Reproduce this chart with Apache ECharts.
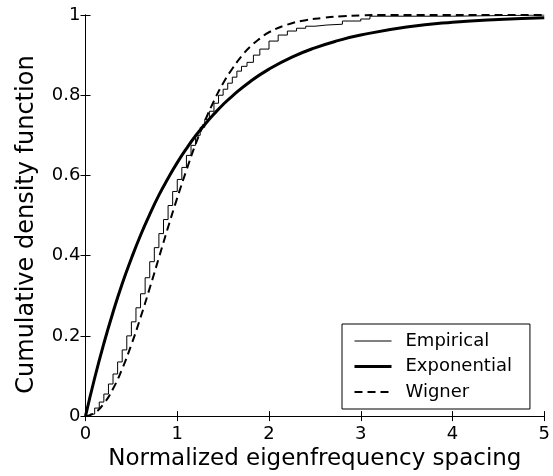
<!DOCTYPE html>
<html>
<head>
<meta charset="utf-8">
<script src="https://cdn.jsdelivr.net/npm/echarts@6/dist/echarts.min.js"></script>
<style>html,body{margin:0;padding:0;background:#fff;}#c{width:553px;height:476px;}</style>
</head>
<body>
<div id="c"></div>
<script>
const xTicks = [0, 1, 2, 3, 4, 5];
const yTicks = [0, 0.2, 0.4, 0.6, 0.8, 1];
const seriesNames = ['Empirical', 'Exponential', 'Wigner'];

const empX = [0, 0.05, 0.1, 0.15, 0.2, 0.25, 0.3, 0.35, 0.4, 0.45, 0.5, 0.55, 0.6, 0.65, 0.7, 0.75, 0.8, 0.85, 0.9, 0.95, 1.0, 1.05, 1.1, 1.15, 1.2, 1.25, 1.3, 1.35, 1.4, 1.45, 1.5, 1.55, 1.6, 1.65, 1.7, 1.76, 1.83, 1.9, 2.0, 2.1, 2.2, 2.3, 2.4, 2.5, 2.63, 2.8, 3.0, 3.1, 4.0, 5.0];
const empY = [0, 0.005, 0.02, 0.035, 0.055, 0.08, 0.105, 0.135, 0.165, 0.2, 0.235, 0.27, 0.305, 0.345, 0.385, 0.42, 0.455, 0.49, 0.525, 0.56, 0.59, 0.62, 0.65, 0.675, 0.7, 0.72, 0.74, 0.76, 0.78, 0.8, 0.815, 0.83, 0.845, 0.86, 0.872, 0.882, 0.9, 0.915, 0.935, 0.95, 0.96, 0.967, 0.972, 0.975, 0.977, 0.985, 0.99, 0.997, 1.0, 1.0];

const expX = [0, 0.1, 0.2, 0.3, 0.4, 0.5, 0.6, 0.7, 0.8, 0.9, 1.0, 1.1, 1.2, 1.3, 1.4, 1.5, 1.6, 1.8, 2.0, 2.25, 2.5, 2.75, 3.0, 3.5, 4.0, 4.5, 5.0];
const expY = [0, 0.095, 0.181, 0.259, 0.33, 0.393, 0.451, 0.503, 0.551, 0.593, 0.632, 0.667, 0.699, 0.727, 0.753, 0.777, 0.798, 0.835, 0.865, 0.895, 0.918, 0.936, 0.95, 0.97, 0.982, 0.989, 0.993];

const wigX = [0, 0.1, 0.2, 0.3, 0.4, 0.5, 0.6, 0.7, 0.8, 0.9, 1.0, 1.1, 1.2, 1.3, 1.4, 1.5, 1.6, 1.7, 1.8, 1.9, 2.0, 2.2, 2.4, 2.6, 2.8, 3.0, 3.2, 5.0];
const wigY = [0, 0.008, 0.031, 0.068, 0.118, 0.178, 0.246, 0.319, 0.395, 0.471, 0.544, 0.613, 0.678, 0.735, 0.786, 0.83, 0.866, 0.897, 0.922, 0.941, 0.957, 0.976, 0.987, 0.993, 0.997, 0.999, 1.0, 1.0];

const pairs = (xs, ys) => xs.map((x, i) => [x, ys[i]]);
const FONT = 'DejaVu Sans';
const black = '#000';
const lineWidths = [1, 3, 2];
const lineTypes = ['solid', 'solid', [8, 5]];

const chart = echarts.init(document.getElementById('c'), null, {renderer: 'canvas'});
const baseAxisLine = {show: true, lineStyle: {color: black, width: 1}};
chart.setOption({
  backgroundColor: '#fff',
  animation: false,
  textStyle: {fontFamily: FONT, color: black},
  grid: {left: 85.5, right: 8.5, top: 15, bottom: 55, containLabel: false},
  legend: {
    orient: 'vertical', left: 342, top: 324,
    data: seriesNames.map((n, i) => ({
      name: n,
      itemStyle: {opacity: 0},
      lineStyle: {color: black, width: lineWidths[i], type: lineTypes[i]}
    })),
    itemWidth: 37, itemHeight: 18, itemGap: 7.5,
    padding: [8, 18, 8, 11],
    borderColor: black, borderWidth: 1, backgroundColor: '#fff',
    itemStyle: {opacity: 0},
    textStyle: {fontFamily: FONT, fontSize: 18, color: black, padding: [0, 0, 0, 9]}
  },
  xAxis: [{
    type: 'value', min: xTicks[0], max: xTicks[xTicks.length - 1], interval: 1,
    position: 'bottom',
    name: 'Normalized eigenfrequency spacing', nameLocation: 'middle', nameGap: 25,
    nameTextStyle: {fontFamily: FONT, fontSize: 23, color: black},
    axisLine: baseAxisLine,
    axisTick: {show: true, inside: true, length: 5, lineStyle: {color: black}},
    axisLabel: {fontFamily: FONT, fontSize: 18, color: black, margin: 9},
    splitLine: {show: false}
  }, {
    type: 'value', min: xTicks[0], max: xTicks[xTicks.length - 1], interval: 1,
    position: 'top',
    axisLine: baseAxisLine,
    axisTick: {show: true, inside: true, length: 5, lineStyle: {color: black}},
    axisLabel: {show: false}, splitLine: {show: false}
  }],
  yAxis: [{
    type: 'value', min: yTicks[0], max: yTicks[yTicks.length - 1], interval: 0.2,
    position: 'left',
    name: 'Cumulative density function', nameLocation: 'middle', nameGap: 47,
    nameTextStyle: {fontFamily: FONT, fontSize: 24, color: black, padding: [0, 18, 0, 0]},
    axisLine: baseAxisLine,
    axisTick: {show: true, inside: true, length: 5, lineStyle: {color: black}},
    axisLabel: {fontFamily: FONT, fontSize: 18, color: black, margin: 5},
    splitLine: {show: false}
  }, {
    type: 'value', min: yTicks[0], max: yTicks[yTicks.length - 1], interval: 0.2,
    position: 'right',
    axisLine: baseAxisLine,
    axisTick: {show: true, inside: true, length: 5, lineStyle: {color: black}},
    axisLabel: {show: false}, splitLine: {show: false}
  }],
  series: [{
    name: seriesNames[0], type: 'line', step: 'end', showSymbol: false, symbol: 'none',
    data: pairs(empX, empY), color: black,
    lineStyle: {color: black, width: lineWidths[0], type: lineTypes[0]}, z: 3
  }, {
    name: seriesNames[1], type: 'line', smooth: true, showSymbol: false, symbol: 'none',
    data: pairs(expX, expY), color: black,
    lineStyle: {color: black, width: lineWidths[1], type: lineTypes[1]}, z: 2
  }, {
    name: seriesNames[2], type: 'line', smooth: true, showSymbol: false, symbol: 'none',
    data: pairs(wigX, wigY), color: black,
    lineStyle: {color: black, width: lineWidths[2], type: lineTypes[2]}, z: 2
  }]
});
</script>
</body>
</html>
